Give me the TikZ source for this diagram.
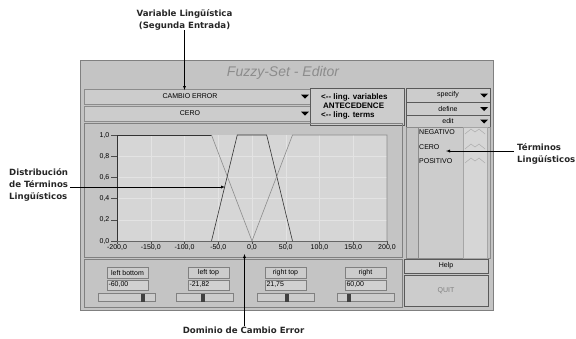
\documentclass[tikz,border=0pt]{standalone}
\usepackage{fontspec}
\setmainfont{DejaVu Sans}
\newfontfamily\uifont{Liberation Sans}
\usetikzlibrary{positioning}
\definecolor{panelgray}{gray}{0.77}
\definecolor{plotgray}{gray}{0.84}
\definecolor{gridgray}{gray}{0.89}
\definecolor{boxgray}{gray}{0.80}
\definecolor{framegray}{gray}{0.35}

\begin{document}
\begin{tikzpicture}[x=1pt,y=-1pt]
\useasboundingbox (0,0) rectangle (576,338);

\tikzstyle{note}=[font=\bfseries\fontsize{8.6}{11.8}\selectfont,text=black!85,inner sep=0pt]
\tikzstyle{uitext}=[font=\uifont\fontsize{7}{8}\selectfont,inner sep=0pt]
\tikzstyle{uibox}=[draw=framegray,fill=boxgray,anchor=north west,inner sep=0pt,outer sep=0pt,font=\uifont\fontsize{7}{8}\selectfont]
\tikzstyle{dropbox}=[draw=black!45,fill=boxgray,anchor=north west,inner sep=0pt,outer sep=0pt]
\tikzstyle{labelbox}=[draw=black!50,fill=boxgray,font=\uifont\fontsize{7}{8}\selectfont,minimum width=41pt,minimum height=11pt,inner sep=0pt]
\tikzstyle{valuebox}=[draw=black!50,fill=boxgray!90!white,font=\uifont\fontsize{7}{8}\selectfont,text width=38pt,align=left,minimum height=10pt,inner xsep=1.5pt,inner ysep=0pt]
\tikzstyle{slider}=[draw=black!50,fill=boxgray,minimum width=57pt,minimum height=8pt,inner sep=0pt]
\tikzstyle{thumb}=[fill=black!75,minimum width=4pt,minimum height=8pt,inner sep=0pt]
\tikzstyle{darkline}=[black!80,semithick]
\tikzstyle{lightline}=[black!45,semithick]

% editor window
\node (panel) [draw=black!50,fill=panelgray,anchor=north west,minimum width=413pt,minimum height=250pt,inner sep=0pt,outer sep=0pt] at (80,60) {};
\node (title) [font=\uifont\itshape\fontsize{14}{15}\selectfont,text=black!45] at (283,73) {Fuzzy-Set - Editor};

% variable and term selectors
\node (varbox) [dropbox,minimum width=232pt,minimum height=15pt] at (84,89) {};
\node (varname) [uitext] at (190,96.5) {CAMBIO ERROR};
\fill (301,94.5) -- ++(8,0) -- ++(-4,4) -- cycle;
\node (termbox) [dropbox,minimum width=232pt,minimum height=15pt] at (84,106) {};
\node (termname) [uitext] at (190,113.5) {CERO};
\fill (301,111.5) -- ++(8,0) -- ++(-4,4) -- cycle;

\node (info) [draw=framegray,fill=boxgray,anchor=north west,minimum width=94pt,minimum height=37pt,inner sep=0pt] at (310,88) {};
\node (infotext) [font=\uifont\bfseries\fontsize{8}{9}\selectfont,align=left,anchor=west,inner sep=0pt] at (321,106.5) {<-{}- ling. variables\\\hspace*{2pt}ANTECEDENCE\\<-{}- ling. terms};

% buttons on the right
\node (specify) [uibox,minimum width=84pt,minimum height=14pt] at (406,88) {specify};
\fill (480,93.5) -- ++(8,0) -- ++(-4,4) -- cycle;
\node (define) [uibox,minimum width=84pt,minimum height=13pt] at (406,102) {define};
\fill (480,107) -- ++(8,0) -- ++(-4,4) -- cycle;
\node (edit) [uibox,minimum width=84pt,minimum height=12pt] at (406,115) {edit};
\fill (480,119.5) -- ++(8,0) -- ++(-4,4) -- cycle;

\node (termlist) [draw=black!45,fill=panelgray,anchor=north west,minimum width=84pt,minimum height=131pt,inner sep=0pt] at (406,127) {};
\node (namecol) [draw=black!45,fill=boxgray,anchor=north west,minimum width=45pt,minimum height=131pt,inner sep=0pt] at (418,127) {};
\node (iconcol) [draw=black!35,fill=boxgray!80!white,anchor=north west,minimum width=24pt,minimum height=131pt,inner sep=0pt] at (463,127) {};
\node (negativo) [uitext,anchor=west] at (419,132) {NEGATIVO};
\node (cero) [uitext,anchor=west] at (419,147) {CERO};
\node (positivo) [uitext,anchor=west] at (419,161) {POSITIVO};
\draw[black!35] (465,134) -- (471,129) -- (475,132) -- (479,129) -- (485,134);
\draw[black!35] (465,149) -- (471,144) -- (475,147) -- (479,144) -- (485,149);
\draw[black!35] (465,163) -- (471,158) -- (475,161) -- (479,158) -- (485,163);

% membership plot
\node (plotframe) [draw=black!50,anchor=north west,minimum width=318pt,minimum height=134pt,inner sep=0pt] at (84,123) {};
\node (plotarea) [fill=plotgray,anchor=north west,minimum width=270pt,minimum height=106pt,inner sep=0pt] at (117,135) {};

\begin{scope}[shift={(252,241)},x=0.675pt,y=106pt]
  \foreach \gx in {-150,-100,...,150} \draw[gridgray] (\gx,0) -- (\gx,1);
  \foreach \gy in {0.2,0.4,0.6,0.8} \draw[gridgray] (-200,\gy) -- (200,\gy);
  \foreach \gx in {-200,-150,...,200} {
    \draw[black!70] (\gx,0) -- (\gx,-0.03);
    \node (xl\gx) [uitext,anchor=north] at (\gx,-0.035) {\gx,0};
  }
  \foreach \gy/\gt in {0/0,0.2/2,0.4/4,0.6/6,0.8/8} {
    \draw[black!70] (-200,\gy) -- (-209,\gy);
    \node (yl\gt) [uitext,anchor=east] at (-211,\gy) {0,\gt};
  }
  \draw[black!70] (-200,1) -- (-209,1);
  \node (ylten) [uitext,anchor=east] at (-211,1) {1,0};
  \draw[black!60] (-200,0) -- (200,0);
  % terms
  \draw[darkline] (-200,0) -- (-200,1) -- (-60,1);
  \draw[lightline] (-60,1) -- (0,0);
  \draw[darkline] (-60,0) -- (-21.82,1) -- (21.75,1) -- (60,0);
  \draw[lightline] (0,0) -- (60,1) -- (200,1) -- (200,0);
\end{scope}

% parameter sliders
\node (ctrlframe) [draw=black!50,anchor=north west,minimum width=318pt,minimum height=48pt,inner sep=0pt] at (84,259) {};

\node (lbl1) [labelbox] at (127.5,272.5) {left bottom};
\node (val1) [valuebox,below=1.5pt of lbl1] {-60,00};
\node (sld1) [slider,below=3pt of val1,xshift=-1pt] {};
\node (thm1) [thumb] at (143,297.5) {};

\node (lbl2) [labelbox] at (208.5,272.5) {left top};
\node (val2) [valuebox,below=1.5pt of lbl2] {-21,82};
\node (sld2) [slider,below=3pt of val2,xshift=-3.5pt] {};
\node (thm2) [thumb] at (203,297.5) {};

\node (lbl3) [labelbox] at (285.5,272.5) {right top};
\node (val3) [valuebox,below=1.5pt of lbl3] {21,75};
\node (sld3) [slider,below=3pt of val3] {};
\node (thm3) [thumb] at (287,297.5) {};

\node (lbl4) [labelbox] at (365.5,272.5) {right};
\node (val4) [valuebox,below=1.5pt of lbl4] {60,00};
\node (sld4) [slider,below=3pt of val4] {};
\node (thm4) [thumb] at (349,297.5) {};

\node (help) [uibox,minimum width=84pt,minimum height=14pt] at (404,259) {Help};
\node (quit) [uibox,minimum width=84pt,minimum height=31pt,text=black!50] at (404,275) {QUIT};

% annotations
\node (varnote) [note,align=center] at (184.5,20) {Variable Lingüística\\(Segunda Entrada)};
\coordinate (vartip) at (184.5,90);
\draw[-latex] (varnote) -- (vartip);

\node (termnote) [note,align=left,anchor=west] at (517,154) {Términos\\Lingüísticos};
\coordinate (termtip) at (446,151);
\draw[-latex] ([xshift=-3pt]termnote.west |- termtip) -- (termtip);

\node (distnote) [note,align=left,anchor=west] at (9,185) {Distribución\\de Términos\\Lingüísticos};
\coordinate (disttip) at (225,187);
\draw[-latex] ([xshift=2pt]distnote.east |- disttip) -- (disttip);

\node (domnote) [note] at (243.5,330) {Dominio de Cambio Error};
\coordinate (domtip) at (244.5,254);
\draw[-latex] (domnote.north -| domtip) -- (domtip);
\end{tikzpicture}
\end{document}
